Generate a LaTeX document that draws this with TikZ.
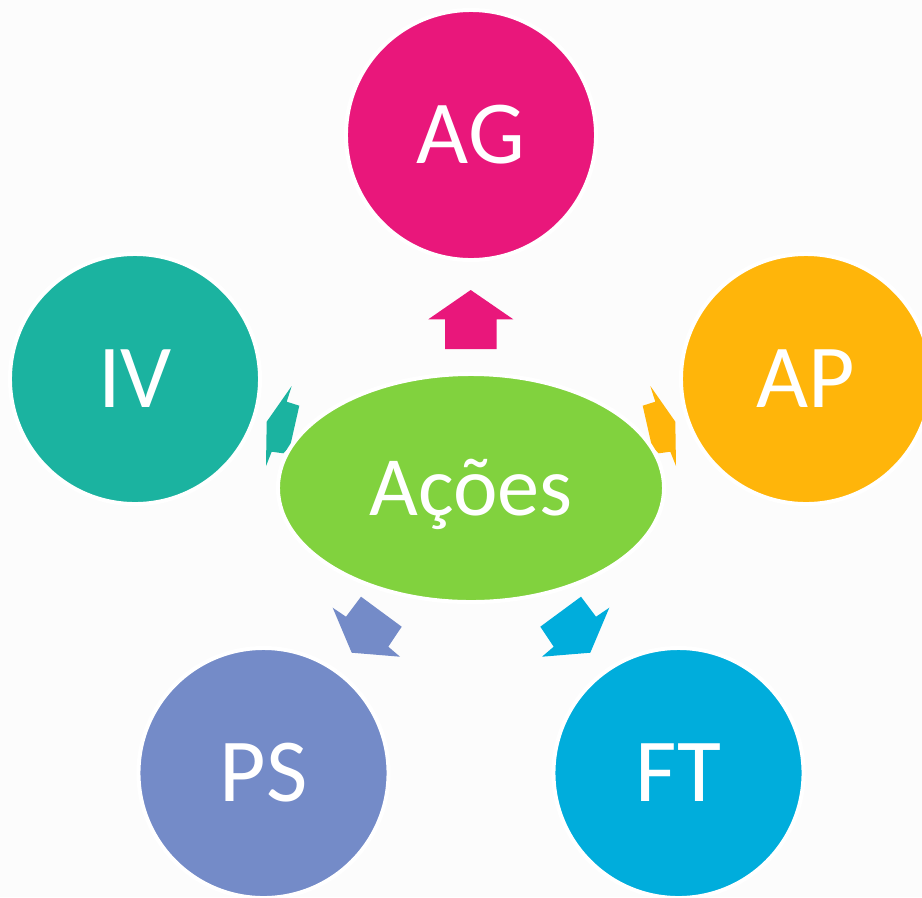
\documentclass[tikz,border=0pt]{standalone}
\usepackage{fontspec}
\setmainfont{Carlito}
\usetikzlibrary{shapes.geometric}

\definecolor{agpink}{HTML}{E9177B}
\definecolor{ivteal}{HTML}{1BB3A0}
\definecolor{apamber}{HTML}{FFB50A}
\definecolor{psblue}{HTML}{748BC8}
\definecolor{ftblue}{HTML}{00ADDC}
\definecolor{acgreen}{HTML}{81D23E}
\definecolor{paper}{HTML}{FCFCFC}

\begin{document}
\begin{tikzpicture}[x=0.025cm,y=-0.025cm,
	main node/.style={circle,draw=white,line width=0.1cm,minimum size=6.25cm,inner sep=0pt,text=white,font=\fontsize{64}{64}\selectfont,text height=41.2pt,text depth=0pt},
	hub node/.style={ellipse,draw=white,line width=0.1cm,minimum width=9.65cm,minimum height=5.7cm,inner sep=0pt,text=white,font=\fontsize{60}{60}\selectfont,text height=38.6pt,text depth=0pt}]

	%page
	\fill[paper] (0,0) rectangle (922,897);
	\useasboundingbox (0,0) rectangle (922,897);

	%arrows
	\fill[agpink] (470.7,290) -- (513.3,319.3) -- (496.7,319.3) -- (496.7,349) -- (445,349) -- (445,319.3) -- (428.3,319.3) -- cycle;
	\fill[ivteal] (291.7,386) -- (286.7,401.7) -- (299.3,405.7) -- (290,446.7) -- (283.3,453.3) -- (271.7,451.7) -- (266,466) -- (266.7,421.7) -- cycle;
	\fill[apamber] (650.3,386) -- (655.3,401.7) -- (642.7,405.7) -- (652,446.7) -- (658.7,453.3) -- (670.3,451.7) -- (676,466) -- (675.3,421.7) -- cycle;
	\fill[psblue] (361,596.7) -- (401.7,626.7) -- (388.3,646.7) -- (400,656.7) -- (351.7,652.7) -- (332.7,607.7) -- (346,616.7) -- cycle;
	\fill[ftblue] (581,596.7) -- (540.3,626.7) -- (553.7,646.7) -- (542,656.7) -- (590.3,652.7) -- (609.3,607.7) -- (596,616.7) -- cycle;

	%nodes
	\node[hub node, fill=acgreen] (acoes) at (471,488) {Ações};
	\node[main node, fill=agpink] (ag) at (471,135) {AG};
	\node[main node, fill=ivteal] (iv) at (135,379) {IV};
	\node[main node, fill=apamber] (ap) at (806,379) {AP};
	\node[main node, fill=psblue] (ps) at (263.5,773) {PS};
	\node[main node, fill=ftblue] (ft) at (678.5,773) {FT};

\end{tikzpicture}
\end{document}
